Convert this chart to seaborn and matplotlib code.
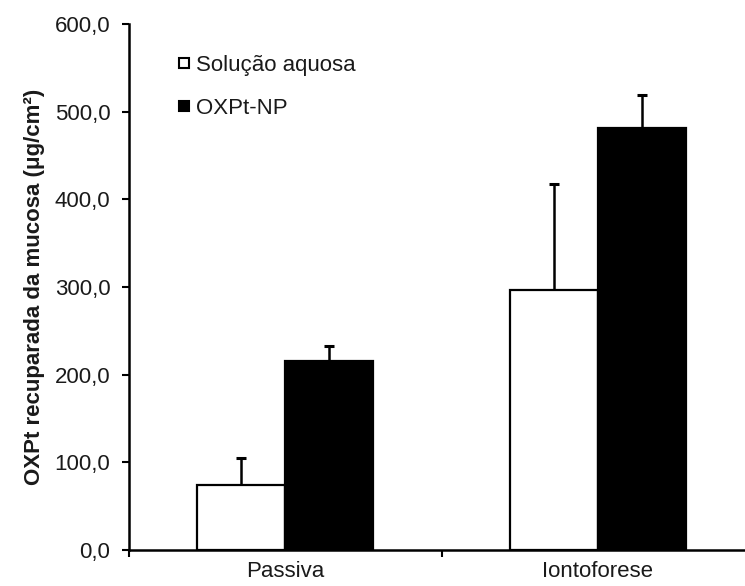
import matplotlib
matplotlib.use("Agg")
import matplotlib.pyplot as plt
from matplotlib.lines import Line2D
from matplotlib.ticker import FuncFormatter, FixedLocator
import seaborn as sns
import pandas as pd

# Data
categories = ["Passiva", "Iontoforese"]
series_names = ["Solução aquosa", "OXPt-NP"]
solucao_mean = [74.0, 297.0]
solucao_err = [31.0, 121.0]
np_mean = [215.5, 481.0]
np_err = [17.0, 38.0]
y_ticks = [0, 100, 200, 300, 400, 500, 600]

df = pd.DataFrame({
    "categoria": categories * 2,
    "grupo": [series_names[0]] * 2 + [series_names[1]] * 2,
    "valor": solucao_mean + np_mean,
    "erro": solucao_err + np_err,
})

sns.set_theme(style="white")
plt.rcParams["font.family"] = ["Liberation Sans", "DejaVu Sans"]

W, H = 745, 586
fig = plt.figure(figsize=(W / 100, H / 100), dpi=100)
x0, x1 = 129, 754
y0, y1 = 550, 24
ax = fig.add_axes([x0 / W, (H - y0) / H, (x1 - x0) / W, (y0 - y1) / H])

sns.barplot(data=df, x="categoria", y="valor", hue="grupo",
            order=categories, hue_order=series_names,
            palette=["white", "black"], width=0.564, errorbar=None,
            edgecolor="black", linewidth=1.6, legend=False, ax=ax,
            saturation=1)

# One-sided (upper) error bars on top of each bar
bars = [p for p in ax.patches]
for patch, (_, row) in zip(bars, df.iterrows()):
    cx = patch.get_x() + patch.get_width() / 2
    _, caps, _ = ax.errorbar(cx, row["valor"], yerr=[[0], [row["erro"]]],
                             fmt="none", ecolor="black", elinewidth=1.8,
                             capsize=3.3, capthick=2.2, zorder=1)
    caps[0].set_visible(False)

ax.set_xlim(-0.5, 1.5)
ax.set_ylim(0, 600)
ax.set_yticks(y_ticks)
ax.yaxis.set_major_formatter(FuncFormatter(lambda v, _: f"{v:.1f}".replace(".", ",")))
ax.tick_params(axis="y", direction="out", length=5, width=1.5, pad=8.5,
               labelsize=16, left=True, color="black", labelcolor="#1a1a1a")
ax.tick_params(axis="x", which="major", length=0, pad=8, labelsize=16,
               labelcolor="#1a1a1a")
ax.xaxis.set_minor_locator(FixedLocator([-0.5, 0.5, 1.5]))
ax.tick_params(axis="x", which="minor", direction="out", length=5, width=1.5,
               bottom=True, color="black")

for side in ["top", "right"]:
    ax.spines[side].set_visible(False)
for side in ["left", "bottom"]:
    ax.spines[side].set_color("black")
    ax.spines[side].set_linewidth(1.8)

ax.set_xlabel("")
ax.set_ylabel("OXPt recuparada da mucosa (μg/cm²)", fontsize=16,
              fontweight="bold", labelpad=7, color="#1a1a1a")

handles = [
    Line2D([], [], marker="s", linestyle="none", markersize=7.5,
           markerfacecolor="white", markeredgecolor="black", markeredgewidth=1.5),
    Line2D([], [], marker="s", linestyle="none", markersize=7.5,
           markerfacecolor="black", markeredgecolor="black", markeredgewidth=1.5),
]
leg = ax.legend(handles, series_names, loc="upper left",
                bbox_to_anchor=(177 / W, (H - 55) / H),
                bbox_transform=fig.transFigure, frameon=False, fontsize=16,
                handlelength=0.6, handletextpad=0.25, labelspacing=0.98,
                borderpad=0, borderaxespad=0)
for t in leg.get_texts():
    t.set_color("#1a1a1a")

fig.savefig("out.png", dpi=100)
